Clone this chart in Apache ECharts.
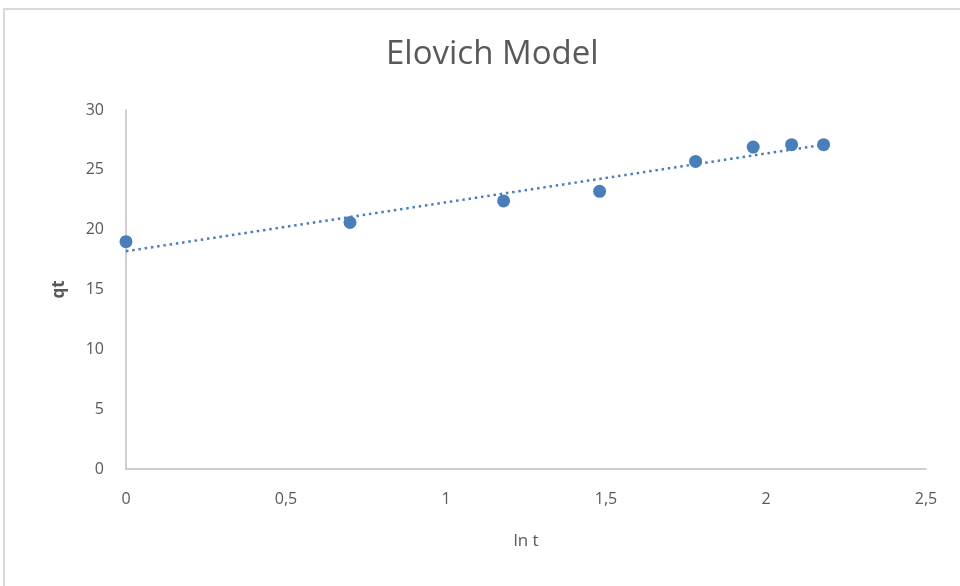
<!DOCTYPE html>
<html>
<head>
<meta charset="utf-8">
<script src="https://cdn.jsdelivr.net/npm/echarts@6/dist/echarts.min.js"></script>
<style>
  html, body { margin: 0; padding: 0; background: #fff; }
  #frame { position: absolute; left: 3px; top: 8px; width: 957px; height: 578px;
           border-left: 2px solid #d9d9d9; border-top: 2px solid #d9d9d9; box-sizing: border-box; }
  #container { position: absolute; left: 0; top: 0; width: 960px; height: 586px; }
</style>
</head>
<body>
<div id="frame"></div>
<div id="container"></div>
<script>
// measured points (ln t, qt)
var lnT = [0, 0.70, 1.18, 1.48, 1.78, 1.96, 2.08, 2.18];
var qt = [19.0, 20.6, 22.4, 23.2, 25.7, 26.9, 27.1, 27.1];
// trendline ends
var trendX = [0, 2.18];
var trendY = [18.2, 27.1];

var dom = document.getElementById("container");
var myChart = echarts.init(dom);

var points = lnT.map(function (x, i) {
    return [x, qt[i]];
});
var trend = trendX.map(function (x, i) {
    return [x, trendY[i]];
});

var labelColor = '#595959';
var blue = '#4a7ebb';

var option = {
    animation: false,
    title: {
        text: 'Elovich Model',
        left: 381,
        top: 33,
        textStyle: {
            fontFamily: 'Open Sans',
            fontWeight: 'normal',
            fontSize: 33,
            color: '#595959'
        }
    },
    grid: {
        left: 126,
        right: 34,
        top: 110,
        bottom: 117
    },
    xAxis: {
        type: 'value',
        min: 0,
        max: 2.5,
        interval: 0.5,
        name: 'ln t',
        nameLocation: 'middle',
        nameGap: 64,
        nameTextStyle: { color: labelColor, fontSize: 17, fontFamily: 'Open Sans' },
        axisLine: { lineStyle: { color: '#bfbfbf', width: 1.5 } },
        axisTick: { show: false },
        splitLine: { show: false },
        axisLabel: {
            color: labelColor,
            fontSize: 16,
            fontFamily: 'Open Sans',
            margin: 22,
            formatter: function (v) { return String(v).replace('.', ','); }
        }
    },
    yAxis: {
        type: 'value',
        min: 0,
        max: 30,
        interval: 5,
        name: 'qt',
        nameLocation: 'middle',
        nameGap: 58,
        nameTextStyle: { color: labelColor, fontSize: 17, fontWeight: 'bold', fontFamily: 'Open Sans' },
        axisLine: { show: true, lineStyle: { color: '#bfbfbf', width: 1.5 } },
        axisTick: { show: false },
        splitLine: { show: false },
        axisLabel: {
            color: labelColor,
            fontSize: 16,
            fontFamily: 'Open Sans',
            margin: 22
        }
    },
    series: [
        {
            name: 'trend',
            type: 'line',
            data: trend,
            showSymbol: false,
            silent: true,
            lineStyle: { color: blue, width: 2.5, type: [2.5, 3.8] },
            z: 1
        },
        {
            name: 'qt',
            type: 'scatter',
            data: points,
            symbolSize: 13,
            itemStyle: { color: blue, opacity: 1 },
            z: 2
        }
    ]
};

if (option && typeof option === "object") {
    myChart.setOption(option, true);
}
</script>
</body>
</html>
